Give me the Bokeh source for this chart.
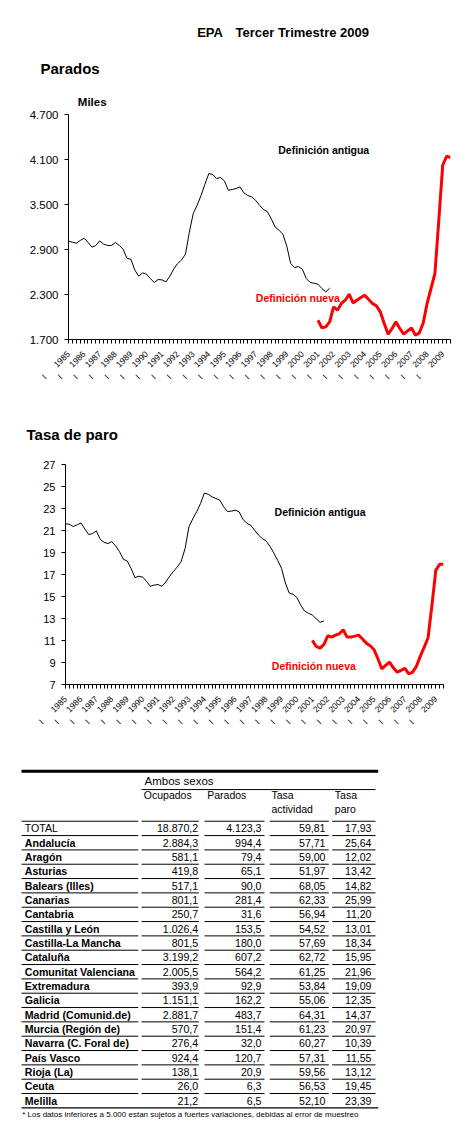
from math import pi
from bokeh.plotting import figure
from bokeh.layouts import column
from bokeh.models import Range1d, FixedTicker, Label, ColumnDataSource
from bokeh.core.properties import value
from bokeh.embed import file_html
from bokeh.resources import INLINE

FONT = "Liberation Sans"
W = 468
NB = "\u00a0"

# ---------------- data ----------------
years = list(range(1985, 2010))
quarter_names = ["I", "II", "III", "IV"]
quarters = [(y, q) for y in years for q in quarter_names][:99]  # 1985-I ... 2009-III

# Parados (miles) - definición antigua: 1985-I ... 2001-IV
parados_antigua = [3011, 2997, 2984, 3020, 3051, 2997, 2931, 2953, 3015, 2971,
                   2955, 2953, 2993, 2957, 2904, 2780, 2771, 2628, 2544, 2588,
                   2571, 2513, 2460, 2500, 2495, 2468, 2544, 2641, 2713, 2761,
                   2837, 3130, 3380, 3490, 3620, 3770, 3913, 3900, 3846, 3860,
                   3815, 3690, 3700, 3713, 3735, 3655, 3620, 3601, 3557, 3490,
                   3433, 3407, 3313, 3201, 3157, 3104, 2944, 2713, 2660, 2673,
                   2637, 2513, 2460, 2451, 2437, 2380, 2335, 2384]
# Parados (miles) - definición nueva: 2001-I ... 2009-III
parados_nueva = [1957, 1855, 1868, 1935, 2135, 2091, 2180, 2224, 2304, 2188,
                 2224, 2260, 2291, 2233, 2180, 2148, 2068, 1913, 1771, 1847,
                 1935, 1847, 1771, 1815, 1855, 1757, 1788, 1921, 2180, 2380,
                 2580, 3290, 4023, 4143, 4126]

# Tasa de paro (%) - definición antigua: 1985-I ... 2001-IV
tasa_antigua = [21.60, 21.57, 21.36, 21.51, 21.69, 21.15, 20.63, 20.72, 20.96, 20.20,
                19.93, 19.81, 19.99, 19.60, 19.08, 18.38, 18.23, 17.56, 16.72, 16.84,
                16.77, 16.38, 15.93, 16.04, 16.08, 15.93, 16.32, 16.84, 17.29, 17.69,
                18.20, 19.36, 21.33, 22.06, 22.70, 23.45, 24.40, 24.30, 24.06, 23.91,
                23.76, 23.15, 22.73, 22.76, 22.85, 22.70, 22.03, 21.66, 21.48, 21.03,
                20.60, 20.27, 20.05, 19.57, 18.96, 18.29, 17.56, 16.23, 15.32, 15.20,
                14.90, 14.20, 13.68, 13.47, 13.31, 12.98, 12.65, 12.77]
# Tasa de paro (%) - definición nueva: 2001-I ... 2009-III
tasa_nueva = [11.01, 10.46, 10.31, 10.64, 11.43, 11.31, 11.49, 11.61, 11.98, 11.31,
              11.31, 11.40, 11.49, 11.13, 10.76, 10.52, 10.16, 9.34, 8.43, 8.73,
              9.03, 8.52, 8.12, 8.28, 8.46, 7.97, 8.12, 8.67, 9.58, 10.40,
              11.25, 14.20, 17.38, 17.93, 17.93]

parados_ticks = [1700, 2300, 2900, 3500, 4100, 4700]
tasa_ticks = [7, 9, 11, 13, 15, 17, 19, 21, 23, 25, 27]

regions = ["TOTAL", "Andalucía", "Aragón", "Asturias", "Balears (Illes)", "Canarias",
           "Cantabria", "Castilla y León", "Castilla-La Mancha", "Cataluña",
           "Comunitat Valenciana", "Extremadura", "Galicia", "Madrid (Comunid.de)",
           "Murcia (Región de)", "Navarra (C. Foral de)", "País Vasco", "Rioja (La)",
           "Ceuta", "Melilla"]
ocupados = [18870.2, 2884.3, 581.1, 419.8, 517.1, 801.1, 250.7, 1026.4, 801.5, 3199.2,
            2005.5, 393.9, 1151.1, 2881.7, 570.7, 276.4, 924.4, 138.1, 26.0, 21.2]
parados = [4123.3, 994.4, 79.4, 65.1, 90.0, 281.4, 31.6, 153.5, 180.0, 607.2,
           564.2, 92.9, 162.2, 483.7, 151.4, 32.0, 120.7, 20.9, 6.3, 6.5]
tasa_actividad = [59.81, 57.71, 59.00, 51.97, 68.05, 62.33, 56.94, 54.52, 57.69, 62.72,
                  61.25, 53.84, 55.06, 64.31, 61.23, 60.27, 57.31, 59.56, 56.53, 52.10]
tasa_paro = [17.93, 25.64, 12.02, 13.42, 14.82, 25.99, 11.20, 13.01, 18.34, 15.95,
             21.96, 19.09, 12.35, 14.37, 20.97, 10.39, 11.55, 13.12, 19.45, 23.39]

footnote = "* Los datos inferiores a 5.000 estan sujetos a fuertes variaciones, debidas al error de muestreo"


def es_num(v, dec):
    s = f"{v:,.{dec}f}"
    return s.replace(",", "X").replace(".", ",").replace("X", ".")


n_q = len(quarters)
x_old = list(range(len(parados_antigua)))
start_new = quarters.index((2001, "I"))
x_new = list(range(start_new, start_new + len(parados_nueva)))
x_overrides = {i: (f"{q}{NB * 6}{y}" if q == "I" else "") for i, (y, q) in enumerate(quarters)}


def plain_fig(height, yr):
    p = figure(width=W, height=height, x_range=Range1d(0, W), y_range=Range1d(*yr),
               output_backend="svg", toolbar_location=None, min_border=0,
               x_axis_type=None, y_axis_type=None, frame_align=False)
    p.outline_line_color = None
    p.grid.visible = False
    return p


def header(height, items):
    p = plain_fig(height, (height, 0))
    for text, x, y, size in items:
        p.text(x=[x], y=[y], text=[text], text_font=value(FONT), text_font_size=size,
               text_font_style="bold", text_color="black", text_baseline="middle",
               text_align="left")
    return p


def make_chart(height, bl, br, bt, bb, yr, yticks, ylabels, ysize, old, new,
               ant_pos, nue_pos):
    p = figure(width=W, height=height, x_range=Range1d(0, n_q - 1),
               y_range=Range1d(*yr), output_backend="svg", toolbar_location=None,
               min_border_left=bl, min_border_right=br, min_border_top=bt,
               min_border_bottom=bb, frame_align=False)
    p.outline_line_color = None
    p.xgrid.visible = False
    p.ygrid.visible = False
    p.background_fill_color = "white"
    p.border_fill_color = "white"

    p.yaxis.ticker = FixedTicker(ticks=yticks)
    p.yaxis.major_label_overrides = dict(zip(yticks, ylabels))
    p.yaxis.major_label_text_font = FONT
    p.yaxis.major_label_text_font_size = ysize
    p.yaxis.major_label_text_color = "black"
    p.yaxis.major_tick_in = 0
    p.yaxis.major_tick_out = 4
    p.yaxis.minor_tick_line_color = None
    p.yaxis.major_label_standoff = 6
    p.yaxis.axis_line_color = "black"

    p.xaxis.ticker = FixedTicker(ticks=list(range(n_q)))
    p.xaxis.major_label_overrides = x_overrides
    p.xaxis.major_label_orientation = pi / 4
    p.xaxis.major_label_text_font = FONT
    p.xaxis.major_label_text_font_size = "8.5px"
    p.xaxis.major_label_text_color = "black"
    p.xaxis.major_tick_in = 0
    p.xaxis.major_tick_out = 4
    p.xaxis.minor_tick_line_color = None
    p.xaxis.major_label_standoff = 9
    p.xaxis.axis_line_color = "black"

    p.line(x_old, old, line_color="black", line_width=1)
    p.line(x_new, new, line_color="#FF0000", line_width=3)

    p.add_layout(Label(x=ant_pos[0], y=ant_pos[1], text="Definición antigua",
                       text_font=FONT, text_font_size="10.5px", text_font_style="bold",
                       text_color="black", text_baseline="middle", text_align="left"))
    p.add_layout(Label(x=nue_pos[0], y=nue_pos[1], text="Definición nueva",
                       text_font=FONT, text_font_size="10.5px", text_font_style="bold",
                       text_color="#FF0000", text_baseline="middle", text_align="left"))
    return p


# ---- chart 1: Parados (page y 0..408) ----
h1 = header(108, [("EPA", 196.7, 31.7, "13px"),
                  ("Tercer Trimestre 2009", 235, 31.7, "13px"),
                  ("Parados", 40, 68.3, "15px"),
                  ("Miles", 77.3, 101.5, "11.5px")])
p1 = make_chart(300, 68, W - 450, 6, 69, (1700, 4700), parados_ticks,
                [es_num(v, 0) for v in parados_ticks], "11.5px",
                parados_antigua, parados_nueva, (53.8, 4228), (48.05, 2260))

# ---- chart 2: Tasa de paro (page y 408..760) ----
h2 = header(44, [("Tasa de paro", 26, 26, "15px")])
p2 = make_chart(308, 65, W - 443, 12, 76, (7, 27), tasa_ticks,
                [str(v) for v in tasa_ticks], "11px",
                tasa_antigua, tasa_nueva, (54.2, 22.64), (53.5, 8.70))

# ---- table (page y 760..1130) ----
h3 = 370
tab = plain_fig(h3, (21.08, -4.738))

n = len(regions)
rows = list(range(n))
src = ColumnDataSource(dict(
    y=rows, name=regions,
    style=["normal" if r == "TOTAL" else "bold" for r in regions],
    ocu=[es_num(v, 1) for v in ocupados],
    par=[es_num(v, 1) for v in parados],
    ta=[es_num(v, 2) for v in tasa_actividad],
    tp=[es_num(v, 2) for v in tasa_paro],
))
common = dict(text_font=value(FONT), text_font_size="10.6px", text_color="black",
              text_baseline="middle")
tab.text(x=24.3, y="y", text="name", source=src, text_align="left",
         text_font_style="style", **common)
for col, xr in (("ocu", 197.7), ("par", 261), ("ta", 325), ("tp", 371)):
    tab.text(x=xr, y="y", text=col, source=src, text_align="right", **common)

hdr = dict(text_font=value(FONT), text_font_size="10.5px", text_color="black",
           text_baseline="middle", text_align="left")
tab.text(x=[144], y=[-3.34], text=["Ambos sexos"], text_font=value(FONT),
         text_font_size="11.5px", text_color="black", text_baseline="middle",
         text_align="left")
tab.text(x=[143.3, 206.7, 271, 334.3], y=[-2.30] * 4,
         text=["Ocupados", "Parados", "Tasa", "Tasa"], **hdr)
tab.text(x=[271, 334.3], y=[-1.32] * 2, text=["actividad", "paro"], **hdr)
tab.text(x=[21.7], y=[19.94], text=[footnote], text_font=value(FONT),
         text_font_size="8px", text_color="black", text_baseline="middle",
         text_align="left")

spans = [(21, 137.7), (141, 198.3), (204, 264), (269.3, 328.3), (331.7, 375)]
x0, x1, y0, y1 = [], [], [], []
for r in rows:
    for a, b in spans:
        x0.append(a); x1.append(b); y0.append(r - 0.5); y1.append(r - 0.5)
tab.segment(x0=x0, y0=y0, x1=x1, y1=y1, line_color="black", line_width=1)
tab.segment(x0=[21], y0=[n - 0.5], x1=[377.7], y1=[n - 0.5], line_color="black", line_width=1.2)
tab.segment(x0=[21], y0=[-3.99], x1=[377.7], y1=[-3.99], line_color="black", line_width=3)
tab.segment(x0=[141], y0=[-2.71], x1=[375], y1=[-2.71], line_color="black", line_width=1)

layout = column(h1, p1, h2, p2, tab)
open("out.html", "w").write(file_html(layout, INLINE))
